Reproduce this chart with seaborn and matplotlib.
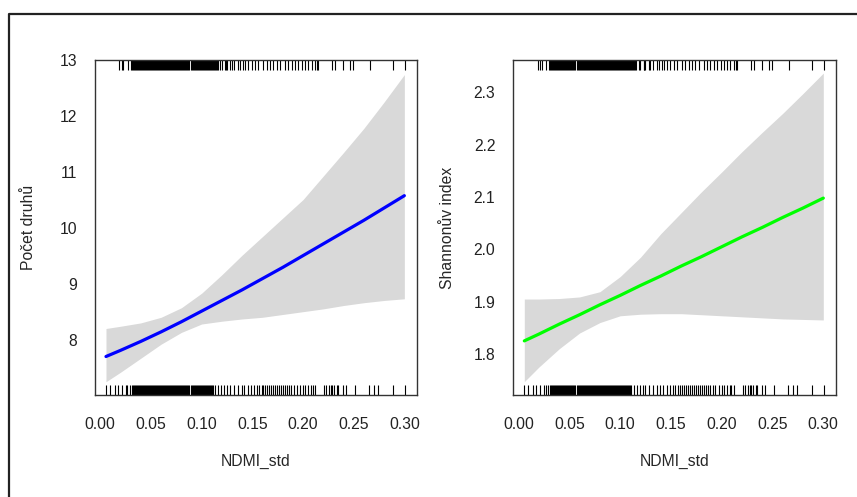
import matplotlib
matplotlib.use("Agg")
import seaborn as sns
from matplotlib import pyplot as plt
from matplotlib.lines import Line2D

ndmi_grid = [0.0056, 0.02, 0.04, 0.06, 0.08, 0.10, 0.12, 0.14,
             0.16, 0.18, 0.20, 0.22, 0.24, 0.26, 0.28, 0.30]

# Počet druhů: fit and confidence band
species_fit = [7.71, 7.82, 7.98, 8.15, 8.33, 8.52, 8.71, 8.90,
               9.10, 9.30, 9.51, 9.72, 9.93, 10.14, 10.36, 10.58]
species_upper = [8.21, 8.25, 8.31, 8.41, 8.58, 8.84, 9.17, 9.52,
                 9.85, 10.18, 10.51, 10.93, 11.35, 11.78, 12.25, 12.74]
species_lower = [7.26, 7.43, 7.68, 7.93, 8.14, 8.29, 8.34, 8.38,
                 8.41, 8.46, 8.51, 8.56, 8.62, 8.67, 8.71, 8.74]

# Shannonův index: fit and confidence band
shannon_fit = [1.825, 1.838, 1.857, 1.875, 1.894, 1.912, 1.931, 1.949,
               1.968, 1.986, 2.005, 2.024, 2.042, 2.061, 2.079, 2.098]
shannon_upper = [1.905, 1.905, 1.906, 1.909, 1.919, 1.948, 1.985, 2.030,
                 2.070, 2.110, 2.148, 2.187, 2.224, 2.260, 2.298, 2.337]
shannon_lower = [1.747, 1.775, 1.810, 1.840, 1.860, 1.873, 1.876, 1.877,
                 1.877, 1.875, 1.873, 1.871, 1.869, 1.867, 1.866, 1.865]

# rug values (observed NDMI_std), dense part is a solid black block
rug_dense = [0.031, 0.032, 0.033, 0.034, 0.035, 0.036, 0.037, 0.038, 0.039, 0.040,
             0.041, 0.042, 0.043, 0.044, 0.045, 0.046, 0.047, 0.048, 0.049, 0.050,
             0.051, 0.052, 0.053, 0.054, 0.055, 0.056, 0.057, 0.058, 0.059, 0.060,
             0.061, 0.062, 0.063, 0.064, 0.065, 0.066, 0.067, 0.068, 0.069, 0.070,
             0.071, 0.072, 0.073, 0.074, 0.075, 0.076, 0.077, 0.078, 0.079, 0.080,
             0.081, 0.082, 0.083, 0.084, 0.085, 0.086, 0.087, 0.088, 0.089, 0.090,
             0.091, 0.092, 0.093, 0.094, 0.095, 0.096, 0.097, 0.098, 0.099, 0.100,
             0.101, 0.102, 0.103, 0.104, 0.105, 0.106, 0.107, 0.108, 0.109, 0.110,
             0.111]
rug_bottom_sparse = [0.0056, 0.0096, 0.0145, 0.0172, 0.0211, 0.0251, 0.0266, 0.0293,
                     0.1132, 0.1165, 0.1191, 0.1224, 0.1247, 0.128, 0.1322, 0.1362,
                     0.1395, 0.1421, 0.1461, 0.1487, 0.152, 0.1543, 0.1566, 0.1593,
                     0.161, 0.1625, 0.1645, 0.1665, 0.1685, 0.1704, 0.1724, 0.1744,
                     0.1764, 0.1783, 0.1803, 0.1823, 0.1842, 0.1862, 0.1882, 0.1912,
                     0.1938, 0.1971, 0.2003, 0.202, 0.2053, 0.2079, 0.2096, 0.2119,
                     0.2208, 0.2227, 0.226, 0.2274, 0.229, 0.2306, 0.2339, 0.2349,
                     0.2398, 0.2422, 0.2514, 0.2655, 0.2704, 0.2738, 0.2886, 0.3007]
rug_top_sparse = [0.0188, 0.0211, 0.0227, 0.027, 0.0303, 0.112, 0.113, 0.114, 0.115,
                  0.116, 0.1181, 0.1198, 0.1231, 0.1238, 0.1247, 0.128, 0.1297, 0.1322,
                  0.1362, 0.1379, 0.1411, 0.1428, 0.1461, 0.1494, 0.1527, 0.1559,
                  0.1609, 0.1642, 0.1675, 0.1707, 0.1741, 0.1774, 0.1823, 0.1855,
                  0.1889, 0.1921, 0.1954, 0.1988, 0.202, 0.2053, 0.2086, 0.2119,
                  0.2136, 0.2151, 0.2284, 0.2316, 0.2398, 0.2464, 0.2491, 0.2662,
                  0.2886, 0.301]

x_ticks = [0.00, 0.05, 0.10, 0.15, 0.20, 0.25, 0.30]
x_tick_labels = ["0.00", "0.05", "0.10", "0.15", "0.20", "0.25", "0.30"]
species_ticks = [8, 9, 10, 11, 12, 13]
shannon_ticks = [1.8, 1.9, 2.0, 2.1, 2.2, 2.3]
shannon_tick_labels = ["1.8", "1.9", "2.0", "2.1", "2.2", "2.3"]

sns.set_style("white")
plt.rcParams['font.family'] = ['Liberation Sans', 'DejaVu Sans']
plt.rcParams['text.color'] = '#222222'

fig = plt.figure(figsize=(8.57, 4.97), dpi=100)

# outer frame (only top and left edges are visible)
fig.add_artist(Line2D([0.0105, 0.0105, 1.0], [0.0, 0.9718, 0.9718],
                      transform=fig.transFigure, color='#222222', lw=1.6))

ax1 = fig.add_axes([0.1109, 0.2052, 0.3757, 0.6740])
ax2 = fig.add_axes([0.5990, 0.2052, 0.3765, 0.6740])


def draw_panel(ax, fit, upper, lower, color, ylim, yticks, ylabels, ylabel, label_x):
    ax.fill_between(ndmi_grid, lower, upper, color='#d9d9d9', lw=0)
    sns.lineplot(x=ndmi_grid, y=fit, ax=ax, color=color, linewidth=2.3)
    sns.rugplot(x=rug_dense + rug_bottom_sparse, height=0.03, ax=ax,
                color='black', linewidth=0.8)
    ax.vlines(rug_dense + rug_top_sparse, 0.97, 1.0,
              transform=ax.get_xaxis_transform(), color='black', lw=0.8)

    ax.set_xlim(-0.0052, 0.3125)
    ax.set_ylim(*ylim)
    ax.set_xticks(x_ticks)
    ax.set_xticklabels(x_tick_labels)
    ax.set_yticks(yticks)
    ax.set_yticklabels(ylabels)
    ax.tick_params(direction='out', length=6.5, width=0.9, color='#333333',
                   labelsize=11.3, labelcolor='#222222')
    ax.tick_params(axis='x', pad=9.0)
    ax.tick_params(axis='y', pad=6.5)
    for sp in ax.spines.values():
        sp.set_color('#333333')
        sp.set_linewidth(1.0)

    ax.set_xlabel('NDMI_std', fontsize=11.3, va='center')
    ax.xaxis.set_label_coords(0.5, -0.199)
    ax.set_ylabel(ylabel, fontsize=11.3, va='center')
    ax.yaxis.set_label_coords(label_x, 0.5)


draw_panel(ax1, species_fit, species_upper, species_lower, '#0000ff',
           (7.023, 13.0), species_ticks, [str(t) for t in species_ticks],
           'Počet druhů', -0.208)
draw_panel(ax2, shannon_fit, shannon_upper, shannon_lower, '#00ff00',
           (1.7215, 2.362), shannon_ticks, shannon_tick_labels,
           'Shannonův index', -0.2055)

plt.savefig('out.png', dpi=100)
plt.close()
